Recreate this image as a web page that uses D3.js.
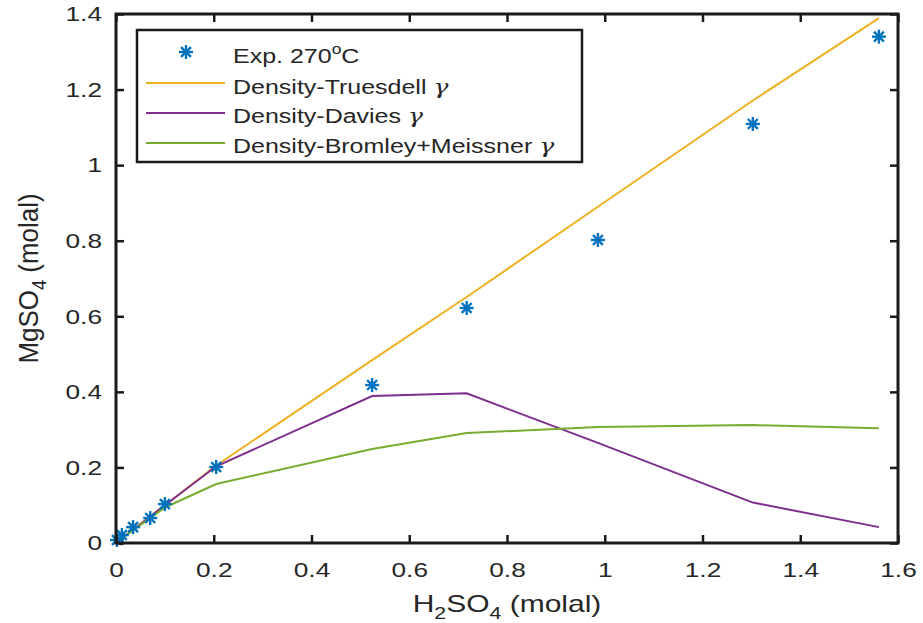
<!DOCTYPE html>
<html><head><meta charset="utf-8">
<script src="https://cdn.jsdelivr.net/npm/d3@7"></script>
<style>body{margin:0;background:#fff}svg{display:block}text{font-family:"Liberation Sans",Arial,sans-serif}</style>
</head><body><svg id="c" width="923" height="623"></svg>
<script>
// Experimental data (H2SO4 molal, MgSO4 molal)
const expX = [0.002, 0.012, 0.035, 0.07, 0.1, 0.205, 0.524, 0.7175, 0.986, 1.303, 1.561];
const expY = [0.008, 0.021, 0.042, 0.066, 0.103, 0.201, 0.418, 0.622, 0.802, 1.109, 1.340];
// Model curves
const modelX = [0, 0.002, 0.012, 0.035, 0.07, 0.1, 0.205, 0.524, 0.7175, 0.986, 1.303, 1.561];
const truesdellY = [0, 0.002, 0.012, 0.035, 0.07, 0.1, 0.205, 0.484, 0.651, 0.89, 1.171, 1.389];
const daviesY    = [0, 0.002, 0.012, 0.035, 0.07, 0.1, 0.203, 0.389, 0.396, 0.265, 0.107, 0.042];
const bromleyY   = [0, 0.002, 0.012, 0.034, 0.066, 0.094, 0.156, 0.249, 0.291, 0.307, 0.312, 0.304];
const xTicks = [0, 0.2, 0.4, 0.6, 0.8, 1, 1.2, 1.4, 1.6];
const yTicks = [0, 0.2, 0.4, 0.6, 0.8, 1, 1.2, 1.4];
const seriesNames = ["Density-Truesdell", "Density-Davies", "Density-Bromley+Meissner"];
const expName = "Exp. 270";

const svg = d3.select("#c");
const L = 116, R = 898, T = 14, B = 543;
const SX = 1.25; // horizontal text stretch seen in the reference
const x = d3.scaleLinear().domain([0, 1.6]).range([L, R]);
const y = d3.scaleLinear().domain([0, 1.4]).range([B, T]);
const colors = ["#EDB120", "#7E2F8E", "#77AC30"];
const blue = "#0072BD";
const ink = "#262626";

const plot = svg.append("g");
const line = d3.line().x(d => x(d[0])).y(d => y(d[1]));
[truesdellY, daviesY, bromleyY].forEach((ys, i) => {
  plot.append("path").datum(modelX.map((v, k) => [v, ys[k]]))
    .attr("d", line).attr("fill", "none").attr("stroke", colors[i]).attr("stroke-width", 2);
});

function star(g, cx, cy, r) {
  [0, 45, 90, 135].forEach(a => {
    const rad = a * Math.PI / 180;
    g.append("line").attr("x1", cx - r * Math.cos(rad)).attr("y1", cy - r * Math.sin(rad))
      .attr("x2", cx + r * Math.cos(rad)).attr("y2", cy + r * Math.sin(rad))
      .attr("stroke", blue).attr("stroke-width", 2.4);
  });
}
expX.forEach((v, i) => star(plot, x(v), y(expY[i]), 7));

// Axes (box, inward ticks)
const fs = 21;
const ax = svg.append("g").attr("transform", `translate(0,${B})`)
  .call(d3.axisBottom(x).tickValues(xTicks).tickFormat(d3.format("~g")).tickSize(-8).tickPadding(19));
const axT = svg.append("g").attr("transform", `translate(0,${T})`)
  .call(d3.axisTop(x).tickValues(xTicks).tickFormat("").tickSize(-8));
const ay = svg.append("g").attr("transform", `translate(${L},0)`)
  .call(d3.axisLeft(y).tickValues(yTicks).tickFormat(d3.format("~g")).tickSize(-8).tickPadding(14));
const ayR = svg.append("g").attr("transform", `translate(${R},0)`)
  .call(d3.axisRight(y).tickValues(yTicks).tickFormat("").tickSize(-8));
[ax, axT, ay, ayR].forEach(g => {
  g.select(".domain").remove();
  g.selectAll(".tick line").attr("stroke", "#1a1a1a").attr("stroke-width", 2.5);
  g.selectAll(".tick text").attr("font-size", fs).attr("fill", ink)
    .style("font-family", '"Liberation Sans",Arial,sans-serif')
    .each(function () {
      const t = d3.select(this);
      const x0 = +t.attr("x") || 0, y0 = +t.attr("y") || 0;
      t.attr("x", 0).attr("y", 0).attr("transform", `translate(${x0},${y0}) scale(${SX},1)`);
    });
});
svg.append("rect").attr("x", L).attr("y", T).attr("width", R - L).attr("height", B - T)
  .attr("fill", "none").attr("stroke", "#1a1a1a").attr("stroke-width", 3);

// Axis labels
const xl = svg.append("text").attr("transform", `translate(${(L + R) / 2},612) scale(${SX},1)`)
  .attr("text-anchor", "middle").attr("font-size", 24).attr("fill", ink);
xl.append("tspan").text("H");
xl.append("tspan").text("2").attr("font-size", 17).attr("dy", 7);
xl.append("tspan").text("SO").attr("dy", -7);
xl.append("tspan").text("4").attr("font-size", 17).attr("dy", 7);
xl.append("tspan").text(" (molal)").attr("dy", -7);

const yl = svg.append("text").attr("transform", `translate(38,${(T + B) / 2}) rotate(-90) scale(1.08,${SX * 0.95})`)
  .attr("text-anchor", "middle").attr("font-size", 24).attr("fill", ink);
yl.append("tspan").text("MgSO");
yl.append("tspan").text("4").attr("font-size", 17).attr("dy", 7);
yl.append("tspan").text(" (molal)").attr("dy", -7);

// Legend
const lg = svg.append("g");
lg.append("rect").attr("x", 137).attr("y", 30).attr("width", 445).attr("height", 132)
  .attr("fill", "#fff").attr("stroke", "#1a1a1a").attr("stroke-width", 2.5);
const lineY = [52, 83, 113, 143];
const textY = [63, 94, 123, 153];
star(lg, 186, lineY[0], 7);
const t0 = lg.append("text").attr("transform", `translate(233,${textY[0]}) scale(${SX},1)`)
  .attr("font-size", 20).attr("fill", ink);
t0.append("tspan").text(expName);
t0.append("tspan").text("o").attr("font-size", 14).attr("dy", -9);
t0.append("tspan").text("C").attr("dy", 9);
seriesNames.forEach((n, i) => {
  lg.append("line").attr("x1", 146).attr("x2", 225).attr("y1", lineY[i + 1]).attr("y2", lineY[i + 1])
    .attr("stroke", colors[i]).attr("stroke-width", 2);
  const t = lg.append("text").attr("transform", `translate(233,${textY[i + 1]}) scale(${SX},1)`)
    .attr("font-size", 20).attr("fill", ink);
  t.append("tspan").text(n + " ");
  t.append("tspan").text("γ").attr("font-family", '"DejaVu Serif",serif').attr("font-style", "italic");
});
</script></body></html>
